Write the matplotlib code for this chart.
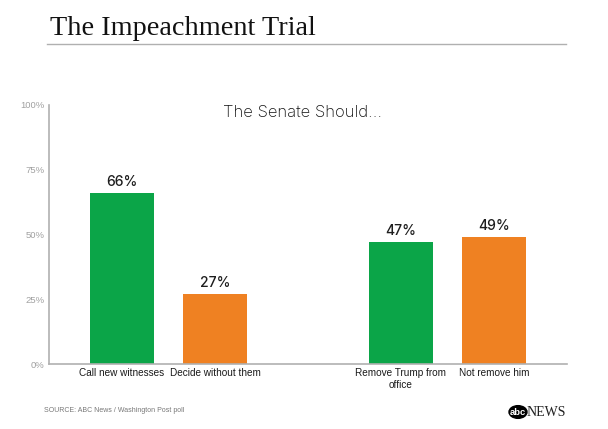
import matplotlib
matplotlib.use("Agg")
import matplotlib.pyplot as plt
from matplotlib.patches import Circle

categories = ["Call new witnesses", "Decide without them", "Remove Trump from\noffice", "Not remove him"]
values = [66, 27, 47, 49]
positions = [0, 1, 3, 4]
bar_colors = ["#0BA548", "#EF8122", "#0BA548", "#EF8122"]
yticks = [0, 25, 50, 75, 100]
ytick_labels = ["0%", "25%", "50%", "75%", "100%"]

W, H = 608, 429
fig = plt.figure(figsize=(W / 100, H / 100), dpi=100)
fig.patch.set_facecolor("white")

ax = fig.add_axes([49 / W, 1 - 364 / H, (567 - 49) / W, (364 - 105) / H])
ax.bar(positions, values, width=0.69, color=bar_colors)
ax.set_xlim(-0.785, 4.785)
ax.set_ylim(0, 100)
ax.set_yticks(yticks)
ax.set_yticklabels(ytick_labels, fontsize=6.8, color="#a0a0a0", family="Liberation Sans")
ax.set_xticks(positions)
ax.set_xticklabels(categories, fontsize=7.2, color="#1a1a1a", family="Liberation Sans")
ax.tick_params(axis="both", length=0)
ax.tick_params(axis="y", pad=3)
ax.tick_params(axis="x", pad=3)
for s in ["top", "right"]:
    ax.spines[s].set_visible(False)
for s in ["left", "bottom"]:
    ax.spines[s].set_color("#b0b0b0")
    ax.spines[s].set_linewidth(1.2)

for p, v in zip(positions, values):
    ax.annotate(f"{v}%", (p, v), xytext=(0, 3), textcoords="offset points",
                ha="center", va="bottom", fontsize=10, color="#1e1e1e",
                family="Inter", fontweight="medium")

ax.text(0.49, 1.0, "The Senate Should...", transform=ax.transAxes, ha="center", va="top",
        fontsize=12, family="Inter", fontweight="light", color="#111111")

# header
fig.text(50 / W, 1 - 35 / H, "The Impeachment Trial", ha="left", va="baseline",
         fontsize=20.3, family="Liberation Serif", color="#111111")
fig.add_artist(plt.Line2D([47 / W, 566 / W], [1 - 44 / H, 1 - 44 / H],
                          color="#b0b0b0", linewidth=1.0))

# footer
fig.text(44 / W, 1 - 411 / H, "SOURCE: ABC News / Washington Post poll", ha="left", va="center",
         fontsize=5, color="#777777", family="Liberation Sans")
circ = Circle((518 / W, 1 - 412 / H), 9 / W, transform=fig.transFigure, color="black")
fig.add_artist(circ)
fig.text(518 / W, 1 - 412.5 / H, "abc", ha="center", va="center", fontsize=6.8,
         color="white", fontweight="bold", family="Liberation Sans")
fig.text(527 / W, 1 - 412 / H, "NEWS", ha="left", va="center", fontsize=10,
         color="#222222", family="Liberation Serif")

fig.savefig("out.png", dpi=100)
